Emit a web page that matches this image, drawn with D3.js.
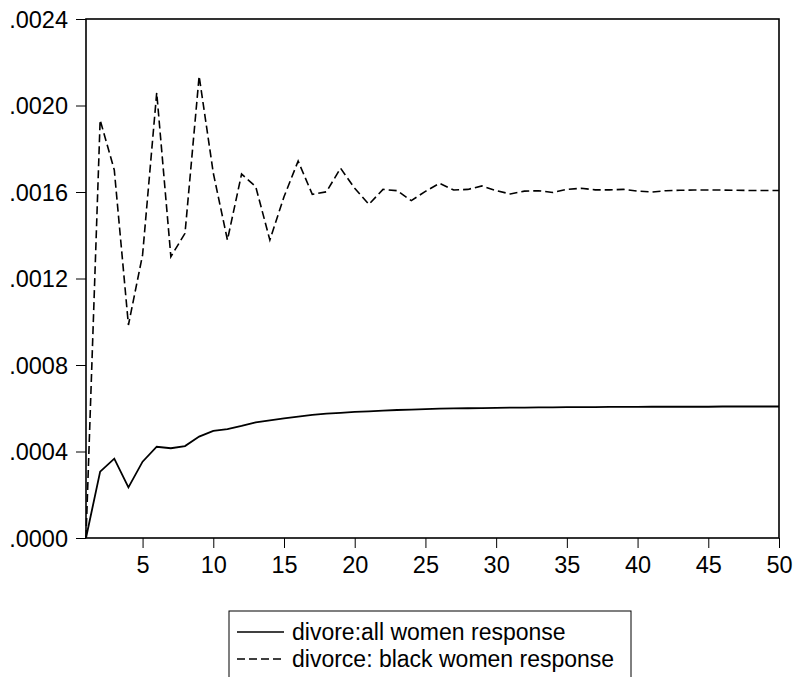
<!DOCTYPE html>
<html>
<head>
<meta charset="utf-8">
<script src="https://cdn.jsdelivr.net/npm/d3@7"></script>
<style>
  body { margin: 0; background: #fff; }
  text { font-family: "Liberation Sans", Arial, sans-serif; fill: #000; }
</style>
</head>
<body>
<script>
// periods 1..50
const periods = d3.range(1, 51);

// divore: all women response
const allWomen = [
  0, 0.000307, 0.000367, 0.000234, 0.000353, 0.000422, 0.000415, 0.000425, 0.000469, 0.000495,
  0.000503, 0.000518, 0.000535, 0.000544, 0.000553, 0.000561, 0.000569, 0.000575, 0.000579, 0.000583,
  0.000586, 0.000589, 0.000592, 0.000594, 0.000596, 0.000598, 0.000599, 0.000600, 0.000601, 0.000602,
  0.000603, 0.000603, 0.000604, 0.000604, 0.000605, 0.000605, 0.000605, 0.000606, 0.000606, 0.000606,
  0.000607, 0.000607, 0.000607, 0.000607, 0.000607, 0.000608, 0.000608, 0.000608, 0.000608, 0.000608
];

// divorce: black women response
const blackWomen = [
  0, 0.001933, 0.001702, 0.000985, 0.001309, 0.002059, 0.001301, 0.001409, 0.002136, 0.001688,
  0.001378, 0.001683, 0.001625, 0.001378, 0.001578, 0.001743, 0.001589, 0.001601, 0.001710, 0.001617,
  0.001543, 0.001612, 0.001606, 0.001560, 0.001603, 0.001640, 0.001609, 0.001612, 0.001628, 0.001606,
  0.001591, 0.001604, 0.001606, 0.001598, 0.001612, 0.001617, 0.001610, 0.001610, 0.001612, 0.001604,
  0.001600, 0.001606, 0.001608, 0.001609, 0.001609, 0.001609, 0.001608, 0.001607, 0.001607, 0.001607
];

const xTicks = [5, 10, 15, 20, 25, 30, 35, 40, 45, 50];
const yTicks = [0, 0.0004, 0.0008, 0.0012, 0.0016, 0.0020, 0.0024];
const legendLabels = ["divore:all women response", "divorce: black women response"];

const outerWidth = 796, outerHeight = 677;
const margin = {top: 19, right: 17, bottom: 139, left: 86};
const width = outerWidth - margin.left - margin.right;
const height = outerHeight - margin.top - margin.bottom;

const svg = d3.select("body").append("svg")
    .attr("width", outerWidth)
    .attr("height", outerHeight);

const g = svg.append("g")
    .attr("transform", `translate(${margin.left},${margin.top})`);

const xScale = d3.scaleLinear().domain([1, 50]).range([0, width]);
const yScale = d3.scaleLinear().domain([0, 0.0024]).range([height, 0]);

const fmt = v => d3.format(".4f")(v).replace(/^0/, "");

// axes
const xAxis = g.append("g")
    .attr("transform", `translate(0,${height})`)
    .call(d3.axisBottom(xScale).tickValues(xTicks).tickSize(10).tickPadding(8));
const yAxis = g.append("g")
    .call(d3.axisLeft(yScale).tickValues(yTicks).tickFormat(fmt).tickSize(10).tickPadding(8));

[xAxis, yAxis].forEach(a => {
  a.select(".domain").remove();
  a.selectAll("line").attr("stroke", "#000").attr("stroke-width", 1);
  a.selectAll("text").style("font-size", "23.5px").style("font-family", "Liberation Sans, Arial, sans-serif");
});
yAxis.selectAll("text").attr("dy", "0.36em");

// frame
g.append("rect")
    .attr("width", width)
    .attr("height", height)
    .attr("fill", "none")
    .attr("stroke", "#000")
    .attr("stroke-width", 1.6);

const line = d3.line()
    .x((d, i) => xScale(periods[i]))
    .y(d => yScale(d));

g.append("path")
    .datum(allWomen)
    .attr("fill", "none")
    .attr("stroke", "#000")
    .attr("stroke-width", 1.8)
    .attr("d", line);

g.append("path")
    .datum(blackWomen)
    .attr("fill", "none")
    .attr("stroke", "#000")
    .attr("stroke-width", 1.6)
    .attr("stroke-dasharray", "8,4")
    .attr("d", line);

// legend
const legend = svg.append("g").attr("transform", "translate(229,611)");
legend.append("rect")
    .attr("width", 402)
    .attr("height", 80)
    .attr("fill", "#fff")
    .attr("stroke", "#000")
    .attr("stroke-width", 1);

const dashes = [null, "8,4"];
legendLabels.forEach((lab, i) => {
  const y = 21 + i * 27;
  legend.append("line")
      .attr("x1", 8).attr("x2", 55)
      .attr("y1", y).attr("y2", y)
      .attr("stroke", "#000")
      .attr("stroke-width", 1.6)
      .attr("stroke-dasharray", dashes[i]);
  legend.append("text")
      .attr("x", 63)
      .attr("y", y)
      .attr("dy", "0.35em")
      .style("font-size", "23px")
      .text(lab);
});
</script>
</body>
</html>
